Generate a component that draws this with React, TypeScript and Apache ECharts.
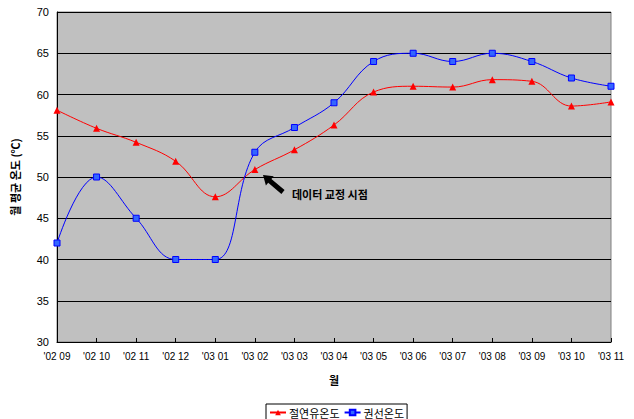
import React, { useEffect, useRef } from "react";
import * as echarts from "echarts";

const categories = ["'02 09", "'02 10", "'02 11", "'02 12", "'03 01", "'03 02", "'03 03", "'03 04", "'03 05", "'03 06", "'03 07", "'03 08", "'03 09", "'03 10", "'03 11"];
const oilTemp = [58.1, 55.9, 54.2, 51.9, 47.6, 50.9, 53.3, 56.3, 60.3, 61.0, 60.9, 61.8, 61.6, 58.6, 59.1];
const coilTemp = [42, 50, 45, 40, 40, 53, 56, 59, 64, 65, 64, 65, 64, 62, 61];
const yTicks = { min: 30, max: 70, interval: 5 };

const FONT = "'Liberation Sans', Arial, sans-serif";
const KFONT = "'Noto Sans CJK KR', sans-serif";

export default function App() {
  const ref = useRef<HTMLDivElement>(null);
  useEffect(() => {
    if (!ref.current) return;
    const chart = echarts.init(ref.current, null, { renderer: "svg" });
    chart.setOption({
      animation: false,
      backgroundColor: "#ffffff",
      grid: {
        left: 57, right: 23, top: 12, bottom: 77,
        show: true, backgroundColor: "#C0C0C0", borderColor: "#808080", borderWidth: 1,
      },
      legend: {
        bottom: -2, left: 266,
        data: ["절연유온도", "권선온도"],
        borderColor: "#000", borderWidth: 1, borderRadius: 0,
        padding: [3, 3, 3, 3], itemGap: 4, itemWidth: 16, itemHeight: 7,
        textStyle: { fontFamily: KFONT, fontSize: 11, color: "#000", padding: [0, 0, 0, -2] },
      },
      xAxis: {
        type: "category", data: categories, boundaryGap: false,
        name: "월", nameLocation: "middle", nameGap: 32,
        nameTextStyle: { fontFamily: KFONT, fontSize: 11, fontWeight: "bold", color: "#000" },
        axisLine: { lineStyle: { color: "#000", width: 1 } },
        axisTick: { show: true, inside: true, length: 4, lineStyle: { color: "#000" } },
        axisLabel: { fontFamily: FONT, fontSize: 10, color: "#000", margin: 9, interval: 0 },
        splitLine: { show: false },
      },
      yAxis: {
        type: "value", min: yTicks.min, max: yTicks.max, interval: yTicks.interval,
        name: "월 평균 온도 (℃)", nameLocation: "middle", nameGap: 37, nameRotate: 90,
        nameTextStyle: { fontFamily: KFONT, fontSize: 11, fontWeight: "bold", color: "#000" },
        axisLine: { show: true, lineStyle: { color: "#000", width: 1 } },
        axisTick: { show: false },
        axisLabel: { fontFamily: FONT, fontSize: 11, color: "#000", margin: 8 },
        splitLine: { show: true, lineStyle: { color: "#000", width: 1 } },
      },
      series: [
        {
          name: "절연유온도", type: "line", data: oilTemp, smooth: 0.4,
          symbol: "triangle", symbolSize: 7,
          lineStyle: { color: "#FF0000", width: 1 },
          itemStyle: { color: "#FF0000" },
        },
        {
          name: "권선온도", type: "line", data: coilTemp, smooth: 0.4,
          symbol: "rect", symbolSize: 6,
          lineStyle: { color: "#0000FF", width: 1 },
          itemStyle: { color: "#3366FF", borderColor: "#0000FF", borderWidth: 1 },
        },
      ],
      graphic: [
        {
          type: "polygon",
          shape: {
            points: [[263, 175], [273.7, 176.3], [271.4, 179.0], [284.6, 190.1], [281.4, 193.9], [268.2, 182.8], [265.9, 185.5]],
          },
          style: { fill: "#000" },
        },
        {
          type: "text", left: 292, top: 188,
          style: { text: "데이터 교정 시점", fontFamily: KFONT, fontSize: 11, fontWeight: "bold", fill: "#000" },
        },
      ],
    });
    return () => chart.dispose();
  }, []);
  return <div ref={ref} style={{ width: 634, height: 419, position: "absolute", left: 0, top: 0 }} />;
}
